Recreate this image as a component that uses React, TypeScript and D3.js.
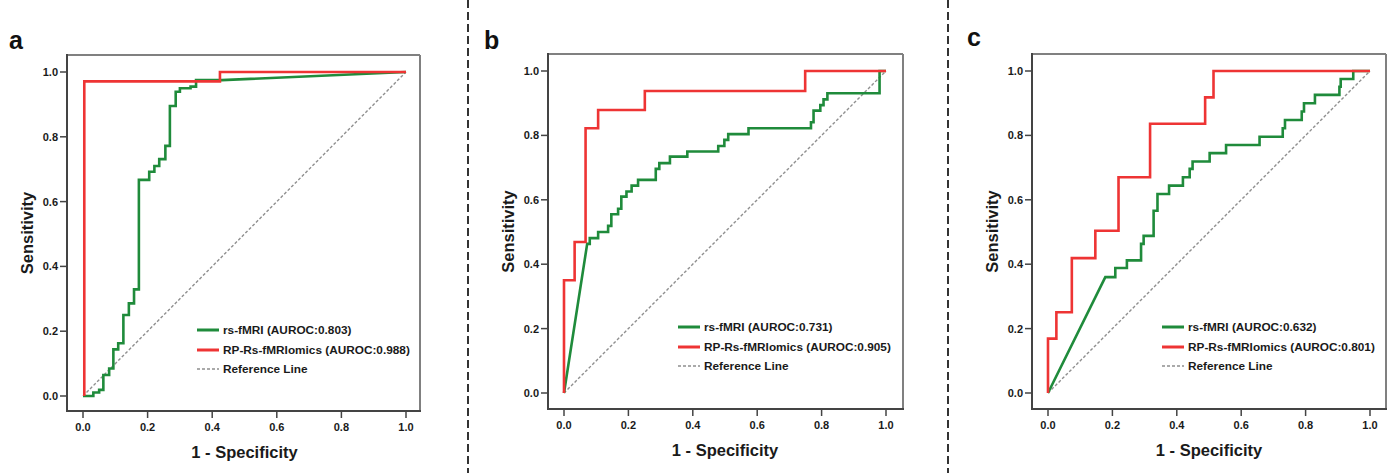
import React from 'react';
import * as d3 from 'd3';

type Pt = [number, number];

// ROC vertices: [1 - specificity, sensitivity]
const rsA: Pt[] = [
  [0, 0], [0.032, 0], [0.032, 0.011], [0.05, 0.011], [0.05, 0.019], [0.063, 0.019], [0.063, 0.065],
  [0.081, 0.065], [0.081, 0.085], [0.094, 0.085], [0.094, 0.144], [0.109, 0.144], [0.109, 0.163],
  [0.125, 0.163], [0.125, 0.25], [0.142, 0.25], [0.142, 0.286], [0.158, 0.286], [0.158, 0.329],
  [0.173, 0.329], [0.173, 0.667], [0.205, 0.667], [0.205, 0.692], [0.221, 0.692], [0.221, 0.71],
  [0.236, 0.71], [0.236, 0.731], [0.255, 0.731], [0.255, 0.772], [0.269, 0.772], [0.269, 0.895],
  [0.287, 0.895], [0.287, 0.939], [0.3, 0.939], [0.3, 0.95], [0.333, 0.95], [0.333, 0.955],
  [0.35, 0.955], [0.35, 0.975], [0.43, 0.975], [1, 1],
];
const rpA: Pt[] = [[0.004, 0], [0.004, 0.971], [0.424, 0.971], [0.424, 1], [1, 1]];

const rsB: Pt[] = [
  [0, 0], [0.072, 0.463], [0.08, 0.463], [0.08, 0.481], [0.106, 0.481], [0.106, 0.5], [0.137, 0.5],
  [0.137, 0.519], [0.147, 0.519], [0.147, 0.555], [0.168, 0.555], [0.168, 0.572], [0.178, 0.572],
  [0.178, 0.61], [0.194, 0.61], [0.194, 0.626], [0.21, 0.626], [0.21, 0.644], [0.23, 0.644],
  [0.23, 0.662], [0.285, 0.662], [0.285, 0.696], [0.296, 0.696], [0.296, 0.714], [0.329, 0.714],
  [0.329, 0.734], [0.383, 0.734], [0.383, 0.75], [0.479, 0.75], [0.479, 0.767], [0.498, 0.767],
  [0.498, 0.786], [0.51, 0.786], [0.51, 0.804], [0.573, 0.804], [0.573, 0.822], [0.767, 0.822],
  [0.767, 0.841], [0.775, 0.841], [0.775, 0.877], [0.796, 0.877], [0.796, 0.894], [0.806, 0.894],
  [0.806, 0.912], [0.818, 0.912], [0.818, 0.931], [0.98, 0.931], [0.98, 1], [1, 1],
];
const rpB: Pt[] = [
  [0, 0], [0, 0.35], [0.033, 0.35], [0.033, 0.469], [0.067, 0.469], [0.067, 0.822], [0.106, 0.822],
  [0.106, 0.879], [0.251, 0.879], [0.251, 0.938], [0.749, 0.938], [0.749, 1], [1, 1],
];

const rsC: Pt[] = [
  [0, 0], [0.178, 0.36], [0.209, 0.36], [0.209, 0.388], [0.245, 0.388], [0.245, 0.412], [0.289, 0.412],
  [0.289, 0.463], [0.297, 0.463], [0.297, 0.488], [0.328, 0.488], [0.328, 0.566], [0.34, 0.566],
  [0.34, 0.618], [0.376, 0.618], [0.376, 0.644], [0.419, 0.644], [0.419, 0.67], [0.44, 0.67],
  [0.44, 0.696], [0.449, 0.696], [0.449, 0.719], [0.502, 0.719], [0.502, 0.745], [0.553, 0.745],
  [0.553, 0.77], [0.657, 0.77], [0.657, 0.796], [0.729, 0.796], [0.729, 0.822], [0.736, 0.822],
  [0.736, 0.848], [0.788, 0.848], [0.788, 0.874], [0.795, 0.874], [0.795, 0.9], [0.829, 0.9],
  [0.829, 0.926], [0.905, 0.926], [0.905, 0.951], [0.909, 0.951], [0.909, 0.975], [0.948, 0.975],
  [0.948, 1], [1, 1],
];
const rpC: Pt[] = [
  [0, 0], [0, 0.169], [0.026, 0.169], [0.026, 0.251], [0.074, 0.251], [0.074, 0.419], [0.147, 0.419],
  [0.147, 0.504], [0.219, 0.504], [0.219, 0.67], [0.317, 0.67], [0.317, 0.836], [0.488, 0.836],
  [0.488, 0.918], [0.514, 0.918], [0.514, 1], [1, 1],
];

const panelLetters = ['a', 'b', 'c'];
const aurocRs = ['0.803', '0.731', '0.632'];
const aurocRp = ['0.988', '0.905', '0.801'];
const ticks = [0, 0.2, 0.4, 0.6, 0.8, 1.0];
const refLine: Pt[] = [[0, 0], [1, 1]];

const GREEN = '#1f8b3b';
const RED = '#ee3434';
const TXT = '#1a1a1a';
const FONT = '"Liberation Sans", Arial, sans-serif';

// frame box and plotting range of each panel, in pixels
const layout = [
  { box: [67, 55, 420, 411], xr: [83, 406], yr: [396, 72], letter: [9, 49] },
  { box: [548, 54, 903, 409], xr: [564, 886], yr: [393, 71], letter: [484, 49] },
  { box: [1032, 54, 1386, 409], xr: [1048, 1370], yr: [393, 71], letter: [967, 46] },
];
const series = [
  [rsA, rpA],
  [rsB, rpB],
  [rsC, rpC],
];

function Panel({ i }: { i: number }) {
  const L = layout[i];
  const [l, t, r, b] = L.box;
  const x = d3.scaleLinear().domain([0, 1]).range(L.xr);
  const y = d3.scaleLinear().domain([0, 1]).range(L.yr);
  const line = d3.line<Pt>().x((d) => x(d[0])).y((d) => y(d[1]));
  const [rs, rp] = series[i];
  const lx = x(0) + 114;
  const ly = y(0) - 66;

  return (
    <g>
      <text x={L.letter[0]} y={L.letter[1]} fontSize={25} fontWeight="bold" fill="#111">
        {panelLetters[i]}
      </text>
      <rect x={l} y={t} width={r - l} height={b - t} fill="#fff" />
      <line x1={l} y1={t} x2={r} y2={t} stroke="#808080" strokeWidth={2} />
      <line x1={r} y1={t} x2={r} y2={b} stroke="#808080" strokeWidth={2} />
      <line x1={l} y1={t - 1} x2={l} y2={b} stroke="#444" strokeWidth={2} />
      <line x1={l - 1} y1={b} x2={r + 1} y2={b} stroke="#444" strokeWidth={2} />

      {ticks.map((v) => (
        <g key={'y' + v}>
          <line x1={l - 7} x2={l} y1={y(v)} y2={y(v)} stroke="#444" strokeWidth={1.5} />
          <text x={l - 9} y={y(v) + 4} textAnchor="end" fontSize={11} fontWeight="bold" fill={TXT}>
            {d3.format('.1f')(v)}
          </text>
        </g>
      ))}
      {ticks.map((v) => (
        <g key={'x' + v}>
          <line x1={x(v)} x2={x(v)} y1={b} y2={b + 7} stroke="#444" strokeWidth={1.5} />
          <text x={x(v)} y={b + 20} textAnchor="middle" fontSize={11} fontWeight="bold" fill={TXT}>
            {d3.format('.1f')(v)}
          </text>
        </g>
      ))}

      <text
        transform={`translate(${l - 40},${(t + b) / 2}) rotate(-90)`}
        textAnchor="middle"
        dominantBaseline="central"
        fontSize={16.5}
        fontWeight="bold"
        fill={TXT}
      >
        Sensitivity
      </text>
      <text x={(x(0) + x(1)) / 2} y={b + 47} textAnchor="middle" fontSize={16.5} fontWeight="bold" fill={TXT}>
        1 - Specificity
      </text>

      <path d={line(refLine) || ''} fill="none" stroke="#8f8f8f" strokeWidth={1.4} strokeDasharray="3,2" />
      <path d={line(rs) || ''} fill="none" stroke={GREEN} strokeWidth={2.6} strokeLinejoin="miter" />
      <path d={line(rp) || ''} fill="none" stroke={RED} strokeWidth={2.6} strokeLinejoin="miter" />

      <g fontSize={11.8} fontWeight="bold" fill={TXT}>
        <line x1={lx} x2={lx + 22} y1={ly} y2={ly} stroke={GREEN} strokeWidth={3} />
        <text x={lx + 26} y={ly + 4}>{`rs-fMRI (AUROC:${aurocRs[i]})`}</text>
        <line x1={lx} x2={lx + 22} y1={ly + 20} y2={ly + 20} stroke={RED} strokeWidth={3} />
        <text x={lx + 26} y={ly + 24}>{`RP-Rs-fMRIomics (AUROC:${aurocRp[i]})`}</text>
        <line x1={lx} x2={lx + 22} y1={ly + 39} y2={ly + 39} stroke="#8f8f8f" strokeWidth={1.4} strokeDasharray="3,2" />
        <text x={lx + 26} y={ly + 43}>Reference Line</text>
      </g>
    </g>
  );
}

export default function App() {
  return (
    <svg
      width={1394}
      height={473}
      style={{ position: 'absolute', left: 0, top: 0, background: '#fff', fontFamily: FONT }}
    >
      <rect width={1394} height={473} fill="#fff" />
      {[468, 948].map((sx) => (
        <line key={sx} x1={sx} x2={sx} y1={0} y2={473} stroke="#333" strokeWidth={2} strokeDasharray="8,4" />
      ))}
      {[0, 1, 2].map((i) => (
        <Panel key={i} i={i} />
      ))}
    </svg>
  );
}
